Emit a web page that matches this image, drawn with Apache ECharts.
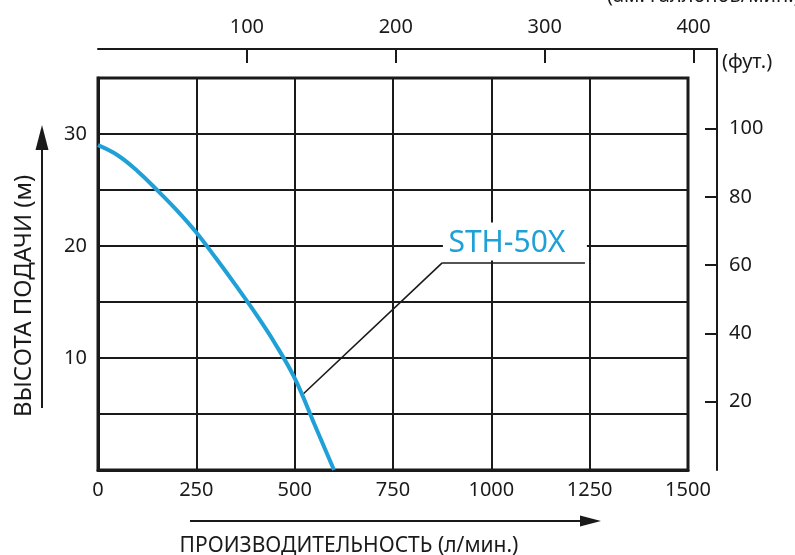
<!DOCTYPE html>
<html>
<head>
<meta charset="utf-8">
<script src="https://cdn.jsdelivr.net/npm/echarts@6/dist/echarts.min.js"></script>
<style>
html,body{margin:0;padding:0;background:#fff;}
#c{width:795px;height:555px;}
</style>
</head>
<body>
<div id="c"></div>
<script>
// ---- data ----
const flowLpm = [0, 50, 100, 150, 200, 250, 300, 350, 400, 450, 500, 550, 600];
const headM   = [29.0, 28.1, 26.7, 25.0, 23.2, 21.2, 18.9, 16.5, 14.0, 11.3, 8.2, 4.1, 0];
const seriesName = 'STH-50X';
const flowTicks = [0, 250, 500, 750, 1000, 1250, 1500];
const headLabelTicks = [10, 20, 30];
const galTicks = [100, 200, 300, 400];
const ftTicks = [20, 40, 60, 80, 100];
const leaderPts = [[519, 6.7], [875, 18.5], [1238, 18.5]];
const labelPos = [1060, 20.4];

const LPM_PER_GAL = 3.78541;
const M_PER_FT = 0.3048;
const FONT = '"Noto Sans", sans-serif';
const BLUE = '#1fa0d6';
const INK = '#1a1a1a';

const chart = echarts.init(document.getElementById('c'), null, {renderer: 'canvas'});

const gridL = 98, gridT = 78, gridW = 590, gridH = 392;
const pxPerLpm = gridW / 1500;
const pxPerM = gridH / 35;
const g2Left = 98, g2Top = 49, g2W = 619, g2H = gridT + gridH - 49;
const galMax = g2W / (pxPerLpm * LPM_PER_GAL);
const ftMax = g2H / (pxPerM * M_PER_FT);

const option = {
  animation: false,
  backgroundColor: '#fff',
  textStyle: {fontFamily: FONT},
  grid: [
    {left: gridL, top: gridT, width: gridW, height: gridH, show: true, borderColor: INK, borderWidth: 3, backgroundColor: 'transparent'},
    {left: g2Left, top: g2Top, width: g2W, height: g2H, show: false}
  ],
  xAxis: [
    {
      type: 'value', gridIndex: 0, min: 0, max: 1500, interval: 250, position: 'bottom',
      axisLine: {show: true, onZero: false, lineStyle: {color: INK, width: 3}},
      axisTick: {show: false},
      splitLine: {show: true, lineStyle: {color: INK, width: 2}},
      axisLabel: {color: INK, fontSize: 20, fontFamily: FONT, margin: 10,
        customValues: flowTicks, formatter: v => String(v)}
    },
    {
      type: 'value', gridIndex: 1, min: 0, max: galMax, interval: 100, position: 'top',
      axisLine: {show: true, onZero: false, lineStyle: {color: INK, width: 2}},
      axisTick: {show: true, inside: true, length: 14, lineStyle: {color: INK, width: 2}, customValues: galTicks},
      splitLine: {show: false},
      axisLabel: {color: INK, fontSize: 20, fontFamily: FONT, margin: 12, customValues: galTicks, formatter: v => String(v)}
    }
  ],
  yAxis: [
    {
      type: 'value', gridIndex: 0, min: 0, max: 35, interval: 5, position: 'left',
      axisLine: {show: true, onZero: false, lineStyle: {color: INK, width: 3}},
      axisTick: {show: false},
      splitLine: {show: true, lineStyle: {color: INK, width: 2}},
      axisLabel: {color: INK, fontSize: 20, fontFamily: FONT, margin: 11, customValues: headLabelTicks, formatter: v => String(v)}
    },
    {
      type: 'value', gridIndex: 1, min: 0, max: ftMax, interval: 20, position: 'right',
      axisLine: {show: true, onZero: false, lineStyle: {color: INK, width: 2}},
      axisTick: {show: true, inside: true, length: 12, lineStyle: {color: INK, width: 2}, customValues: ftTicks},
      splitLine: {show: false},
      axisLabel: {color: INK, fontSize: 20, fontFamily: FONT, margin: 12, customValues: ftTicks, formatter: v => String(v)}
    }
  ],
  series: [{
    name: seriesName,
    type: 'line',
    xAxisIndex: 0, yAxisIndex: 0,
    data: flowLpm.map((f, i) => [f, headM[i]]),
    smooth: 0.4,
    showSymbol: false,
    symbol: 'none',
    lineStyle: {color: BLUE, width: 4},
    z: 5,
    markLine: {
      silent: true,
      symbol: ['none', 'none'],
      label: {show: false},
      lineStyle: {color: INK, width: 1.6, type: 'solid'},
      data: [
        [{coord: leaderPts[0]}, {coord: leaderPts[1]}],
        [{coord: leaderPts[1]}, {coord: leaderPts[2]}]
      ]
    },
    markPoint: {
      silent: true,
      data: [{
        coord: labelPos,
        symbol: 'rect',
        symbolSize: [144, 38],
        itemStyle: {color: '#fff'},
        label: {show: true, position: 'inside', offset: [-8, 2], formatter: seriesName,
          color: BLUE, fontSize: 30, fontFamily: FONT}
      }]
    }
  }],
  graphic: [
    {type: 'text', left: 607, top: -14, silent: true,
      style: {text: '(ам. галлонов/мин.)', fill: INK, font: '20px ' + FONT}},
    {type: 'text', left: 722, top: 52, silent: true,
      style: {text: '(фут.)', fill: INK, font: '20px ' + FONT}},
    {type: 'text', x: 24, y: 296, rotation: Math.PI / 2, silent: true,
      style: {text: 'ВЫСОТА ПОДАЧИ (м)', fill: INK, font: '24px ' + FONT, align: 'center', verticalAlign: 'middle'}},
    {type: 'text', x: 349, y: 546, silent: true,
      style: {text: 'ПРОИЗВОДИТЕЛЬНОСТЬ (л/мин.)', fill: INK, font: '21px ' + FONT, align: 'center', verticalAlign: 'middle'}},
    {type: 'line', silent: true, shape: {x1: 42, y1: 408, x2: 42, y2: 145}, style: {stroke: INK, lineWidth: 2}},
    {type: 'polygon', silent: true, shape: {points: [[42, 125], [35.5, 150], [48.5, 150]]}, style: {fill: INK}},
    {type: 'line', silent: true, shape: {x1: 190, y1: 521, x2: 585, y2: 521}, style: {stroke: INK, lineWidth: 2}},
    {type: 'polygon', silent: true, shape: {points: [[601, 521], [580, 515.5], [580, 526.5]]}, style: {fill: INK}}
  ]
};
chart.setOption(option);
</script>
</body>
</html>
